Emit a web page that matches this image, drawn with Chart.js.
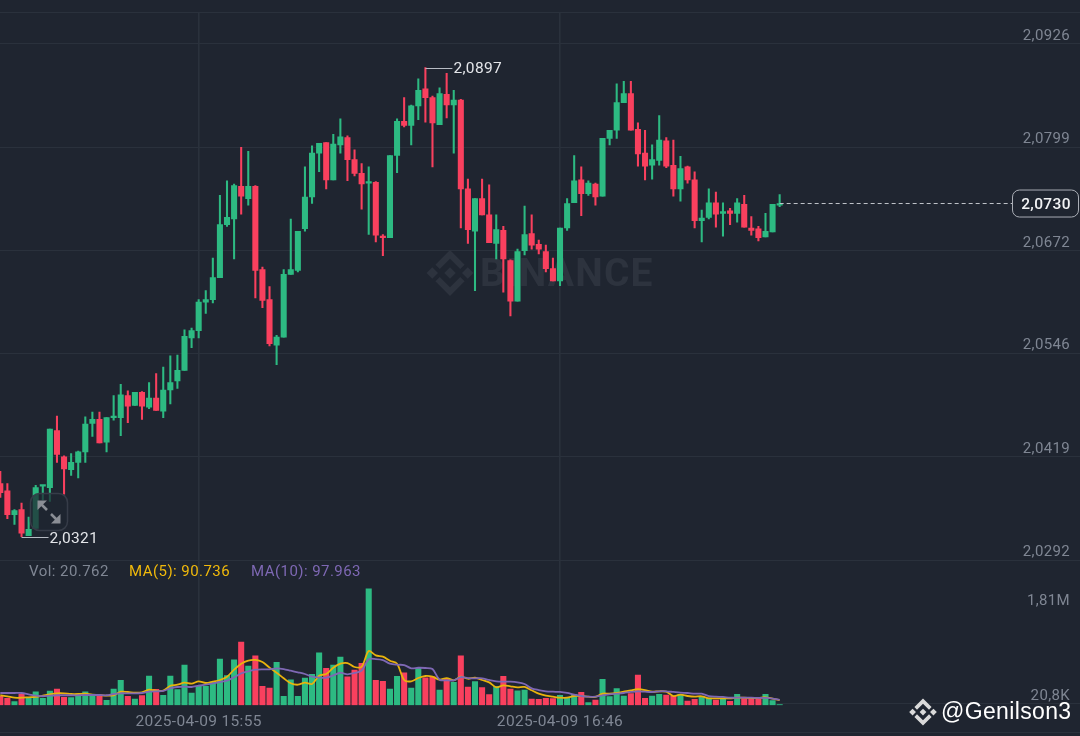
<!DOCTYPE html>
<html>
<head>
<meta charset="utf-8">
<script src="https://cdn.jsdelivr.net/npm/chart.js@4/dist/chart.umd.min.js"></script>
<style>
html,body{margin:0;padding:0;background:#1f2530;width:1080px;height:736px;overflow:hidden}
#c{display:block;position:absolute;left:0;top:0}
</style>
</head>
<body>
<canvas id="c" width="1080" height="736"></canvas>
<script>
const opens=[2.0386,2.0377,2.0348,2.0354,2.0322,2.0331,2.0383,2.0381,2.0451,2.0419,2.0403,2.0412,2.0425,2.0460,2.0465,2.0437,2.0467,2.0467,2.0494,2.0482,2.0498,2.0480,2.0491,2.0475,2.0501,2.0512,2.0525,2.0565,2.0574,2.0609,2.0612,2.0639,2.0704,2.0711,2.0751,2.0736,2.0751,2.0649,2.0612,2.0556,2.0566,2.0643,2.0648,2.0699,2.0738,2.0792,2.0805,2.0759,2.0802,2.0811,2.0784,2.0767,2.0755,2.0756,2.0690,2.0688,2.0789,2.0831,2.0826,2.0850,2.0871,2.0860,2.0827,2.0864,2.0851,2.0857,2.0748,2.0696,2.0736,2.0716,2.0681,2.0697,2.0660,2.0610,2.0672,2.0693,2.0680,2.0671,2.0650,2.0635,2.0700,2.0731,2.0759,2.0742,2.0754,2.0739,2.0810,2.0820,2.0854,2.0865,2.0821,2.0792,2.0777,2.0783,2.0807,2.0777,2.0748,2.0775,2.0759,2.0709,2.0713,2.0731,2.0718,2.0721,2.0718,2.0729,2.0700,2.0699,2.0689,2.0695,2.0728];
const highs=[2.0401,2.0386,2.0354,2.0362,2.0345,2.0384,2.0384,2.0453,2.0469,2.0420,2.0423,2.0426,2.0468,2.0474,2.0474,2.0467,2.0494,2.0508,2.0500,2.0498,2.0499,2.0510,2.0521,2.0529,2.0543,2.0544,2.0575,2.0577,2.0612,2.0623,2.0663,2.0740,2.0758,2.0754,2.0799,2.0794,2.0752,2.0652,2.0628,2.0568,2.0649,2.0711,2.0696,2.0775,2.0801,2.0804,2.0805,2.0815,2.0834,2.0813,2.0796,2.0779,2.0775,2.0757,2.0692,2.0789,2.0834,2.0860,2.0851,2.0883,2.0897,2.0862,2.0872,2.0890,2.0869,2.0858,2.0760,2.0736,2.0760,2.0753,2.0716,2.0702,2.0661,2.0674,2.0727,2.0716,2.0685,2.0679,2.0663,2.0700,2.0736,2.0789,2.0775,2.0758,2.0755,2.0810,2.0820,2.0877,2.0880,2.0880,2.0829,2.0820,2.0802,2.0838,2.0811,2.0808,2.0788,2.0776,2.0769,2.0722,2.0748,2.0744,2.0731,2.0724,2.0736,2.0740,2.0714,2.0702,2.0718,2.0729,2.0741];
const lows=[2.0369,2.0343,2.0336,2.0321,2.0322,2.0331,2.0366,2.0364,2.0412,2.0373,2.0396,2.0393,2.0412,2.0444,2.0436,2.0425,2.0464,2.0445,2.0461,2.0482,2.0465,2.0478,2.0476,2.0467,2.0484,2.0503,2.0525,2.0553,2.0565,2.0595,2.0608,2.0639,2.0702,2.0662,2.0717,2.0728,2.0614,2.0602,2.0555,2.0532,2.0566,2.0643,2.0646,2.0696,2.0730,2.0769,2.0748,2.0759,2.0792,2.0758,2.0764,2.0723,2.0692,2.0683,2.0666,2.0688,2.0768,2.0824,2.0802,2.0833,2.0830,2.0775,2.0827,2.0835,2.0792,2.0700,2.0681,2.0623,2.0716,2.0682,2.0662,2.0621,2.0592,2.0610,2.0667,2.0674,2.0668,2.0646,2.0635,2.0629,2.0697,2.0731,2.0715,2.0740,2.0728,2.0739,2.0802,2.0810,2.0854,2.0820,2.0776,2.0759,2.0760,2.0777,2.0774,2.0739,2.0733,2.0755,2.0700,2.0683,2.0711,2.0701,2.0690,2.0704,2.0707,2.0701,2.0691,2.0684,2.0689,2.0695,2.0726];
const closes=[2.0375,2.0348,2.0353,2.0325,2.0330,2.0381,2.0384,2.0453,2.0422,2.0404,2.0412,2.0425,2.0459,2.0465,2.0436,2.0467,2.0469,2.0495,2.0481,2.0498,2.0481,2.0491,2.0476,2.0501,2.0510,2.0525,2.0567,2.0574,2.0609,2.0612,2.0639,2.0704,2.0713,2.0752,2.0739,2.0751,2.0648,2.0611,2.0558,2.0566,2.0643,2.0649,2.0696,2.0738,2.0792,2.0804,2.0759,2.0803,2.0812,2.0784,2.0767,2.0754,2.0757,2.0691,2.0688,2.0789,2.0831,2.0826,2.0850,2.0869,2.0860,2.0829,2.0865,2.0851,2.0857,2.0748,2.0698,2.0736,2.0716,2.0682,2.0698,2.0662,2.0610,2.0671,2.0692,2.0679,2.0674,2.0650,2.0635,2.0700,2.0730,2.0758,2.0742,2.0755,2.0738,2.0810,2.0820,2.0854,2.0865,2.0820,2.0791,2.0776,2.0784,2.0808,2.0776,2.0748,2.0773,2.0759,2.0709,2.0712,2.0731,2.0717,2.0720,2.0718,2.0731,2.0701,2.0697,2.0688,2.0696,2.0729,2.0730];
const volumes=[164,126,62,207,126,250,126,264,301,145,137,194,250,194,175,88,301,465,164,113,175,546,296,183,546,288,753,226,352,352,433,866,552,853,1186,734,928,352,320,804,164,476,164,508,578,985,691,753,904,533,659,785,2190,465,446,301,540,608,320,691,514,533,282,490,427,928,339,439,326,194,352,540,301,269,279,113,107,126,119,183,132,201,239,43,94,484,156,307,169,213,565,126,169,201,188,169,201,75,107,156,132,94,126,70,201,119,119,119,201,81,6];
const ma5=[183,164,137,137,145,151,175,201,220,220,207,207,213,194,188,175,183,250,245,232,239,288,269,269,363,382,420,401,446,414,439,471,533,665,778,838,850,811,704,608,503,409,382,420,395,552,584,702,778,791,716,721,1017,936,910,834,778,471,446,508,546,533,476,508,465,533,495,514,471,427,333,371,352,333,339,277,213,175,156,137,137,169,169,156,151,213,213,226,250,277,296,282,250,258,250,169,194,169,156,164,126,126,126,126,137,137,132,132,145,119,91];
const ma10=[226,226,226,226,201,175,164,175,183,183,183,183,188,188,188,183,207,220,220,220,226,250,258,264,314,339,345,339,363,382,409,433,458,522,597,635,665,672,672,691,678,646,616,584,533,514,514,559,608,578,603,646,861,866,847,778,759,753,691,702,697,678,476,465,465,527,508,503,503,471,446,439,439,427,395,314,282,258,250,245,226,194,169,156,156,183,201,213,226,245,258,250,245,258,258,245,232,226,213,213,169,156,151,137,137,137,137,132,132,119,98];
const priceTicks=[2.0926,2.0799,2.0672,2.0546,2.0419,2.0292];
const volumeTicks=[1810,20.8];
const volumeTickLabels=['1,81M','20,8K'];
const timeTicks=[28,79];
const timeLabels=['2025-04-09 15:55','2025-04-09 16:46'];
const lastPrice=2.0730;
const highMark={index:60,value:2.0897};
const lowMark={index:3,value:2.0321};

const GREEN='#2dba82',RED='#f9405e',BG='#1f2530',GRID='#2a313c',MUTED='#7f8693';
const FONT='Roboto, sans-serif';
const n=opens.length;
const colors=closes.map((c,i)=>c>=opens[i]?GREEN:RED);
const comma=v=>v.toFixed(4).replace('.',',');
const flatten=s=>{s.paddingTop=0;s.paddingBottom=0;s.paddingLeft=0;s.paddingRight=0;};

function diamondLogo(ctx,cx,cy,r,color){
  ctx.save();ctx.fillStyle=color;ctx.translate(cx,cy);ctx.scale(r/22,r/22);
  const sq=(x,y,s)=>{ctx.beginPath();ctx.moveTo(x,y-s);ctx.lineTo(x+s,y);ctx.lineTo(x,y+s);ctx.lineTo(x-s,y);ctx.closePath();ctx.fill();};
  sq(0,0,5.5);sq(-17,0,5.5);sq(17,0,5.5);
  const chev=(d)=>{ctx.beginPath();ctx.moveTo(0,d*22);ctx.lineTo(14,d*8);ctx.lineTo(9.8,d*3.8);ctx.lineTo(0,d*13.6);ctx.lineTo(-9.8,d*3.8);ctx.lineTo(-14,d*8);ctx.closePath();ctx.fill();};
  chev(-1);chev(1);
  ctx.restore();
}
const deco={
  id:'deco',
  beforeDraw(chart){ chart.ctx.letterSpacing='0.35px'; },
  beforeDatasetsDraw(chart){
    const ctx=chart.ctx;
    ctx.save();
    diamondLogo(ctx,450,273,23,'#2d333e');
    ctx.fillStyle='#2d333e';ctx.font='bold 39px '+FONT;ctx.textBaseline='middle';ctx.textAlign='left';
    ctx.letterSpacing='1.2px';
    ctx.fillText('BINANCE',480,276);
    ctx.restore();
    ctx.save();
    ctx.strokeStyle=GRID;ctx.lineWidth=1;
    ctx.beginPath();ctx.moveTo(0,12.5);ctx.lineTo(1080,12.5);ctx.moveTo(0,732.5);ctx.lineTo(1080,732.5);ctx.stroke();
    ctx.restore();
  },
  afterDraw(chart){
    const ctx=chart.ctx,x=chart.scales.x,y=chart.scales.y;
    ctx.save();
    ctx.textBaseline='middle';ctx.textAlign='left';
    // legend
    ctx.font='15px '+FONT;
    ctx.letterSpacing='0.45px';
    ctx.fillStyle=MUTED;ctx.fillText('Vol: 20.762',29,572);
    ctx.fillStyle='#f0b90b';ctx.fillText('MA(5): 90.736',129,572);
    ctx.fillStyle='#7e68b4';ctx.fillText('MA(10): 97.963',251,572);
    ctx.letterSpacing='0.35px';
    // high / low marks
    const hx=x.getPixelForValue(highMark.index),hy=Math.round(y.getPixelForValue(highMark.value))+.5;
    const lx=x.getPixelForValue(lowMark.index),ly=Math.round(y.getPixelForValue(lowMark.value))+.5;
    ctx.strokeStyle='#b7bcc4';ctx.lineWidth=1;
    ctx.beginPath();ctx.moveTo(hx,hy);ctx.lineTo(hx+27,hy);ctx.moveTo(lx,ly);ctx.lineTo(lx+27,ly);ctx.stroke();
    ctx.fillStyle='#e4e6ea';ctx.font='15.5px '+FONT;
    ctx.fillText(comma(highMark.value),hx+28,hy+1);
    ctx.fillText(comma(lowMark.value),lx+28,ly+1.5);
    // expand icon
    ctx.beginPath();ctx.roundRect(30.5,493.5,37,37,9);ctx.fillStyle='rgba(31,37,48,.72)';ctx.fill();
    ctx.strokeStyle='#363c48';ctx.lineWidth=1.5;ctx.stroke();
    ctx.fillStyle='#8a8e95';ctx.strokeStyle='#8a8e95';ctx.lineWidth=2.6;
    ctx.beginPath();ctx.moveTo(40,503);ctx.lineTo(47,510);ctx.moveTo(51,514);ctx.lineTo(58,521);ctx.stroke();
    ctx.beginPath();ctx.moveTo(37.5,500.5);ctx.lineTo(47,500.5);ctx.lineTo(37.5,510);ctx.closePath();ctx.fill();
    ctx.beginPath();ctx.moveTo(60.5,523.5);ctx.lineTo(51,523.5);ctx.lineTo(60.5,514);ctx.closePath();ctx.fill();
    // last price pill
    const py=y.getPixelForValue(lastPrice);
    ctx.beginPath();ctx.roundRect(1012.5,py-13.5,66,27,7);ctx.fillStyle=BG;ctx.fill();
    ctx.strokeStyle='#a9adb5';ctx.lineWidth=1;ctx.stroke();
    ctx.fillStyle='#f2f3f5';ctx.textAlign='center';ctx.font='500 15.5px '+FONT;
    ctx.fillText(comma(lastPrice),1046,py+1.5);
    // credit
    diamondLogo(ctx,923,712,13.5,'#d9d9d9');
    ctx.textAlign='left';ctx.fillStyle='#ffffff';ctx.font='23px "Liberation Sans", sans-serif';
    ctx.fillText('@Genilson3',941,713);
    ctx.restore();
  }
};
const yGrid={color:GRID,lineWidth:1,drawTicks:false};
new Chart(document.getElementById('c'),{
  type:'bar',
  plugins:[deco],
  data:{datasets:[
    {type:'line',order:0,yAxisID:'y',data:[{x:n-1,y:lastPrice},{x:143,y:lastPrice}],borderColor:'#c2c6cc',borderWidth:1,borderDash:[4,3],pointRadius:0,tension:0},
    {type:'line',order:1,yAxisID:'yVol',data:ma10.map((v,i)=>({x:i,y:v})),borderColor:'#7e68b4',borderWidth:1.8,pointRadius:0,tension:.3},
    {type:'line',order:2,yAxisID:'yVol',data:ma5.map((v,i)=>({x:i,y:v})),borderColor:'#e9b30c',borderWidth:1.8,pointRadius:0,tension:.3},
    {order:3,yAxisID:'y',data:opens.map((o,i)=>({x:i,y:[o,closes[i]]})),backgroundColor:colors,barThickness:5.4,minBarLength:1.5,grouped:false},
    {order:4,yAxisID:'y',data:lows.map((l,i)=>({x:i,y:[l,highs[i]]})),backgroundColor:colors,barThickness:1.4,grouped:false},
    {order:5,yAxisID:'yVol',data:volumes.map((v,i)=>({x:i,y:v})),backgroundColor:colors,barThickness:5.4,grouped:false}
  ]},
  options:{
    responsive:false,animation:false,devicePixelRatio:1,
    layout:{padding:{top:13,left:0,right:0,bottom:0}},
    plugins:{legend:{display:false},tooltip:{enabled:false}},
    scales:{
      x:{type:'linear',min:-0.04,max:152.39,offset:false,bounds:'data',
        grid:{offset:false,color:GRID,lineWidth:1.6,drawTicks:false},border:{display:false},
        afterBuildTicks:s=>{s.ticks=timeTicks.map(v=>({value:v}));},
        afterFit:s=>{s.height=30.5;flatten(s);},
        ticks:{autoSkip:false,maxRotation:0,minRotation:0,padding:7,color:MUTED,font:{family:FONT,size:15.5},
          callback:v=>timeLabels[timeTicks.indexOf(v)]}},
      y:{type:'linear',position:'right',min:2.01135,max:2.09640,bounds:'data',
        grid:yGrid,border:{display:false},
        afterBuildTicks:s=>{s.ticks=priceTicks.map(v=>({value:v}));},
        afterFit:s=>{s.width=0;flatten(s);},
        ticks:{mirror:true,padding:-10,labelOffset:-8,autoSkip:false,color:MUTED,font:{family:FONT,size:15},callback:v=>comma(v)}},
      yVol:{type:'linear',position:'right',min:-10,max:13049,bounds:'data',
        grid:{color:c=>c.tick&&c.tick.value===volumeTicks[1]?GRID:'rgba(0,0,0,0)',drawTicks:false},border:{display:false},
        afterBuildTicks:s=>{s.ticks=volumeTicks.map(v=>({value:v}));},
        afterFit:s=>{s.width=0;flatten(s);},
        ticks:{mirror:true,padding:-10,labelOffset:-8,autoSkip:false,color:MUTED,font:{family:FONT,size:15},
          callback:v=>volumeTickLabels[volumeTicks.indexOf(v)]}}
    }
  }
});
</script>
</body>
</html>
